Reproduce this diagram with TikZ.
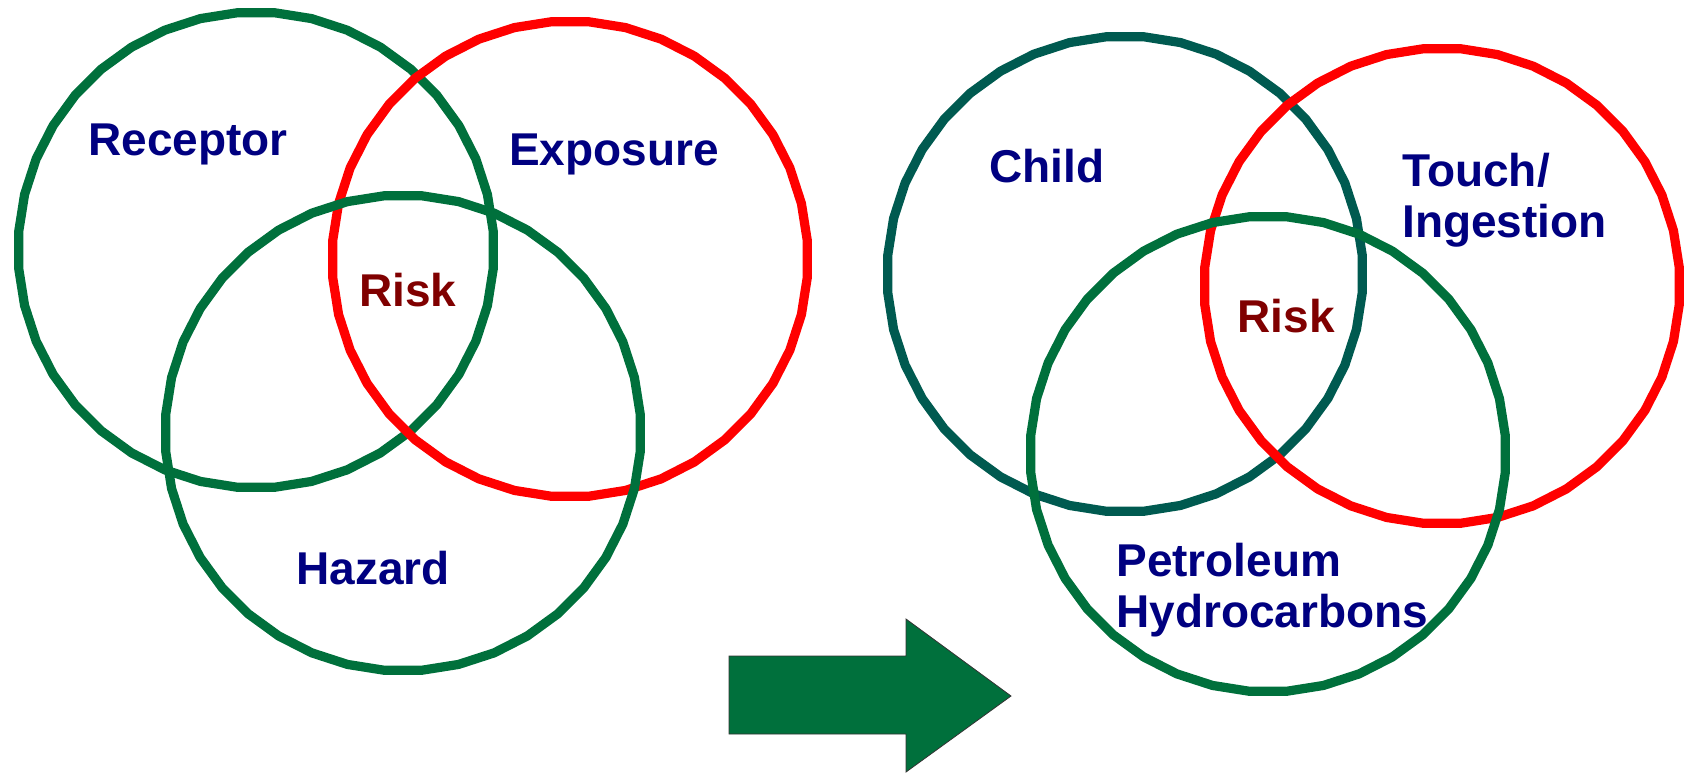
\documentclass[tikz,border=0pt]{standalone}
\usepackage{fontspec}
\setmainfont{Liberation Sans}
\usetikzlibrary{shapes.geometric}
\definecolor{cgreen}{RGB}{0,112,60}
\definecolor{cteal}{RGB}{0,90,80}
\definecolor{cred}{RGB}{255,0,0}
\definecolor{cnavy}{RGB}{0,0,128}
\definecolor{crisk}{RGB}{128,0,0}
\tikzset{
  ring/.style={regular polygon, regular polygon sides=40, minimum size=238pt, line width=4.6pt, draw=#1, inner sep=0pt},
  lbl/.style={text=cnavy, font=\fontsize{23}{25.5}\selectfont\bfseries, inner sep=0pt, align=#1},
  lbl/.default=center,
  risk/.style={text=crisk, font=\fontsize{23}{25.5}\selectfont\bfseries, inner sep=0pt},
}
\begin{document}
\begin{tikzpicture}[x=0.5pt,y=-0.5pt]
\useasboundingbox (0,0) rectangle (1692,773);
% left group
\node[ring=cgreen] (receptor) at (256,250) {};
\node[ring=cred] (exposure) at (570,259) {};
\node[ring=cgreen] (hazard) at (403,433) {};
\node[lbl] (tReceptor) at (188,144) {Receptor};
\node[lbl] (tExposure) at (614,154) {Exposure};
\node[risk] (tRisk1) at (408,290) {Risk};
\node[lbl] (tHazard) at (373,568) {Hazard};
% arrow
\path[fill=cgreen, draw=black!80, line width=0.4pt]
  (729,656) -- (906,656) -- (906,619) -- (1011,696) -- (906,772) -- (906,734) -- (729,734) -- cycle;
% right group
\node[ring=cteal] (child) at (1125,274) {};
\node[ring=cred] (touch) at (1442,286) {};
\node[ring=cgreen] (petro) at (1268,454) {};
\node[lbl] (tChild) at (1047,166) {Child};
\node[lbl=left, anchor=west] (tTouch) at (1402,200) {Touch/\\Ingestion};
\node[risk] (tRisk2) at (1286,316) {Risk};
\node[lbl=left, anchor=west] (tPetro) at (1116,590) {Petroleum\\Hydrocarbons};
\end{tikzpicture}
\end{document}
